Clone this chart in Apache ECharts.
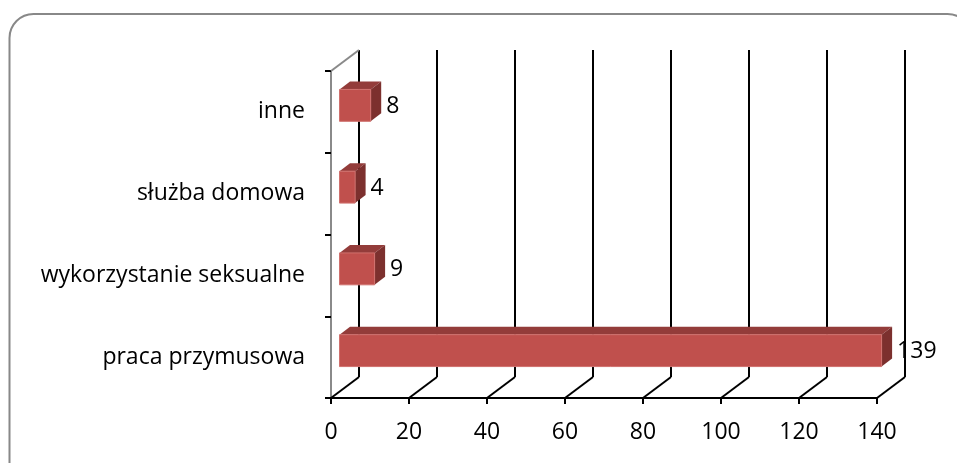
<!DOCTYPE html>
<html>
<head>
<meta charset="utf-8">
<script src="https://cdn.jsdelivr.net/npm/echarts@6/dist/echarts.min.js"></script>
<style>
  html, body { margin: 0; padding: 0; background: #fff; }
  #chart { width: 957px; height: 463px; }
</style>
</head>
<body>
<div id="chart"></div>
<script>
// Categories listed bottom to top, as the value axis stacks them
const categories = ['praca przymusowa', 'wykorzystanie seksualne', 'służba domowa', 'inne'];
const counts = [139, 9, 4, 8];
const valueTicks = [0, 20, 40, 60, 80, 100, 120, 140];

// Pseudo-3D depth: back wall offset and the slice of depth a bar occupies
const WALL = [28, -21];
const BAR_FRONT = [8.5, -6.5];
const BAR_BACK = [19, -14.5];
const FONT = '"Open Sans", sans-serif';
const FONT_SIZE = 23;

const chart = echarts.init(document.getElementById('chart'), null, { renderer: 'canvas' });

function renderWall(params, api) {
  const cs = params.coordSys;
  const v = api.value(0);
  const x = api.coord([v, 0])[0];
  const yb = cs.y + cs.height;
  const style = { stroke: '#000', lineWidth: 2, fill: null };
  const children = [
    { type: 'line', shape: { x1: x, y1: yb, x2: x + WALL[0], y2: yb + WALL[1] }, style },
    { type: 'line', shape: { x1: x + WALL[0], y1: yb + WALL[1], x2: x + WALL[0], y2: cs.y + WALL[1] }, style }
  ];
  if (params.dataIndex === 0) {
    children.push({ type: 'line', shape: { x1: x, y1: cs.y, x2: x + WALL[0], y2: cs.y + WALL[1] },
      style: { stroke: '#8a8a8a', lineWidth: 2, fill: null } });
  }
  return { type: 'group', children };
}

function renderBar(params, api) {
  const idx = api.value(1);
  const v = api.value(0);
  const p0 = api.coord([0, idx]);
  const p1 = api.coord([v, idx]);
  const band = api.size([0, 1])[1];
  const h = band * 0.39;
  const xl = p0[0] + BAR_FRONT[0];
  const xr = p1[0] + BAR_FRONT[0];
  const yc = p0[1] + BAR_FRONT[1];
  const yt = yc - h / 2;
  const yb = yc + h / 2;
  const dx = BAR_BACK[0] - BAR_FRONT[0];
  const dy = BAR_BACK[1] - BAR_FRONT[1];
  return {
    type: 'group',
    children: [
      { type: 'polygon', shape: { points: [[xl, yt], [xr, yt], [xr + dx, yt + dy], [xl + dx, yt + dy]] },
        style: { fill: '#933c3a' } },
      { type: 'polygon', shape: { points: [[xr, yt], [xr + dx, yt + dy], [xr + dx, yb + dy], [xr, yb]] },
        style: { fill: '#7c302e' } },
      { type: 'rect', shape: { x: xl, y: yt, width: xr - xl, height: h },
        style: { fill: '#c0504d', stroke: '#d0716e', lineWidth: 1 } },
      { type: 'text', style: { x: xr + dx + 5, y: yc + 1, text: String(v), fill: '#000',
        font: FONT_SIZE + 'px ' + FONT, textAlign: 'left', textVerticalAlign: 'middle' } }
    ]
  };
}

chart.setOption({
  animation: false,
  backgroundColor: '#fff',
  graphic: [{
    type: 'rect', z: -10,
    shape: { x: 9.5, y: 14, width: 962, height: 480, r: 24 },
    style: { fill: '#fff', stroke: '#888', lineWidth: 2 }
  }],
  grid: { left: 331, right: 80, top: 71, bottom: 65 },
  xAxis: {
    type: 'value', min: 0, max: 140, interval: 20,
    axisLine: { show: true, lineStyle: { color: '#000', width: 2 } },
    axisTick: { show: true, length: 6, lineStyle: { color: '#000', width: 2 } },
    splitLine: { show: false },
    axisLabel: { color: '#000', fontFamily: FONT, fontSize: FONT_SIZE, margin: 23 }
  },
  yAxis: {
    type: 'category', data: categories,
    axisLine: { show: true, lineStyle: { color: '#8a8a8a', width: 2 } },
    axisTick: { show: true, length: 6, lineStyle: { color: '#000', width: 2 } },
    axisLabel: { color: '#000', fontFamily: FONT, fontSize: FONT_SIZE, margin: 26 }
  },
  series: [
    { type: 'custom', renderItem: renderWall, data: valueTicks.map(v => [v]), z: 1, silent: true },
    { type: 'custom', renderItem: renderBar, data: counts.map((v, i) => [v, i]), z: 3, silent: true }
  ]
});
</script>
</body>
</html>
